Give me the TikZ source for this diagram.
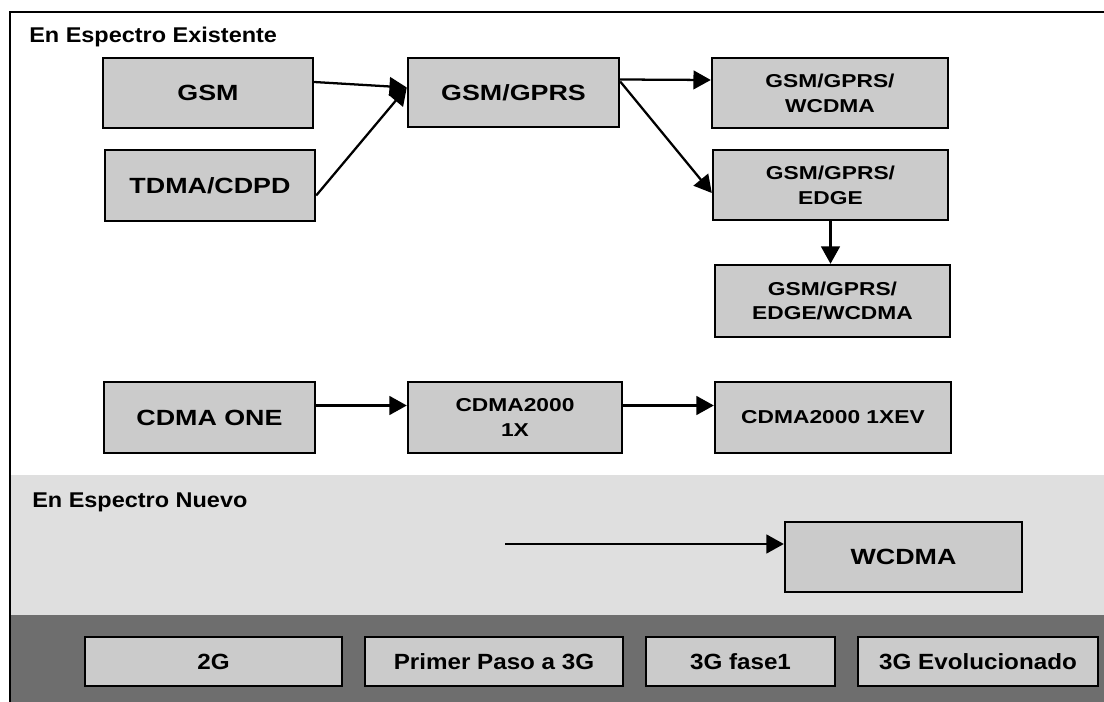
\documentclass[tikz,border=0pt]{standalone}
\usepackage{fontspec}
\setmainfont{Liberation Sans}
\newfontfamily\wfont{Liberation Sans}[FakeStretch=1.22]
\newfontfamily\hfont{Liberation Sans}[FakeStretch=1.1]
\usetikzlibrary{arrows.meta,calc}
\definecolor{boxgray}{HTML}{CBCBCB}
\definecolor{newgray}{HTML}{DFDFDF}
\definecolor{bandgray}{HTML}{6E6E6E}
\begin{document}
\begin{tikzpicture}[x=0.75pt,y=-0.75pt,
  box/.style={draw=black, line width=1.8pt, fill=boxgray, inner sep=0pt, align=center},
  sz/.style 2 args={minimum width=#1*0.75pt, minimum height=#2*0.75pt},
  big/.style={font=\wfont\bfseries\fontsize{16.5}{19}\selectfont},
  small/.style={font=\wfont\bfseries\fontsize{14}{18.5}\selectfont},
  bot/.style={font=\hfont\bfseries\fontsize{16.5}{19}\selectfont},
  hdr/.style={font=\hfont\bfseries\fontsize{16}{19}\selectfont, anchor=base west, inner sep=0pt},
  arr/.style={draw=black, line width=1.7pt, -{Triangle[length=13pt,width=14pt]}}
]
\useasboundingbox (0,0) rectangle (1104,702);
\fill[white] (0,0) rectangle (1104,702);
% regions
\fill[newgray] (10,475) rectangle (1104,615);
\fill[bandgray] (10,615) rectangle (1104,702);
\draw[line width=1.6pt] (1104,12) -- (10,12) -- (10,702);

\node[hdr] (h1) at (29,43) {En Espectro Existente};
\node[hdr] (h2) at (32,507) {En Espectro Nuevo};

% boxes
\node[box, big, sz={210}{70}] (gsm) at (208,93) {GSM};
\node[box, big, sz={210}{71}] (tdma) at (210,185.5) {TDMA/CDPD};
\node[box, big, sz={211}{69}] (gprs) at (513.5,92.5) {GSM/GPRS};
\node[box, small, sz={236}{70}] (gw) at (830,93) {GSM/GPRS/\\WCDMA};
\node[box, small, sz={235}{70}] (ge) at (830.5,185) {GSM/GPRS/\\EDGE};
\node[box, small, sz={235}{72}] (gew) at (832.5,301) {GSM/GPRS/\\EDGE/WCDMA};
\node[box, big, sz={211}{71}] (cdma) at (209.5,417.5) {CDMA ONE};
\node[box, small, sz={214}{71}] (c2k) at (515,417.5) {CDMA2000\\1X};
\node[box, small, sz={236}{71}] (c2kev) at (833,417.5) {CDMA2000 1XEV};
\node[box, big, sz={237}{70}] (wcdma) at (903.5,557) {WCDMA};

\node[box, bot, sz={257}{49}] (g2) at (213.5,661.5) {2G};
\node[box, bot, sz={258}{49}] (pp) at (494,661.5) {Primer Paso a 3G};
\node[box, bot, sz={189}{49}] (f1) at (740.5,661.5) {3G fase1};
\node[box, bot, sz={240}{49}] (evo) at (978,661.5) {3G Evolucionado};

% arrows
\draw[arr] ($(gsm.east)+(0,-11)$) -- ($(gprs.west)+(0,-5)$);
\draw[arr] ($(tdma.east)+(0,10)$) -- ($(gprs.west)+(0,-5)$);
\draw[arr] ($(gprs.east)+(0,-13)$) -- ($(gw.west)+(0,-13)$);
\draw[arr] ($(gprs.east)+(0,-11)$) -- ($(ge.west)+(0,8)$);
\draw[arr] (ge.south) -- (ge.south |- gew.north);
\draw[arr] ($(cdma.east)+(0,-12)$) -- ($(c2k.west)+(0,-12)$);
\draw[arr] ($(c2k.east)+(0,-12)$) -- ($(c2kev.west)+(0,-12)$);
\coordinate (ws) at (505,544);
\draw[arr] (ws) -- ($(wcdma.west)+(0,-13)$);
\end{tikzpicture}
\end{document}
